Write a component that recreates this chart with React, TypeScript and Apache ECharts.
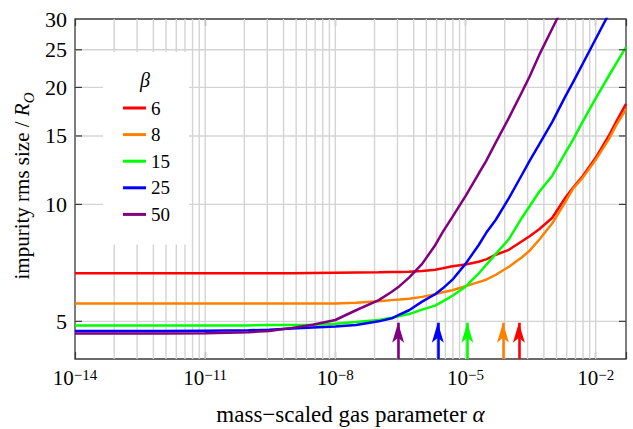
import React, { useEffect, useRef } from 'react';
import * as echarts from 'echarts';

const FONT = "'Liberation Serif', 'Times New Roman', serif";

// mass-scaled gas parameter alpha (x samples)
const alphas = [1e-14, 1e-13, 1e-12, 1e-11, 1e-10, 3e-10, 1e-9, 3e-9, 1e-8, 3e-8, 1e-7, 2e-7, 3e-7, 5e-7, 1e-6, 2e-6, 3e-6, 5e-6, 1e-5, 2e-5, 3e-5, 5e-5, 1e-4, 2e-4, 3e-4, 5e-4, 1e-3, 2e-3, 3e-3, 5e-3, 1e-2, 2e-2, 3e-2, 5e-2];

// impurity rms size / R_O for each beta
const size6 = [6.65, 6.65, 6.65, 6.65, 6.65, 6.65, 6.65, 6.66, 6.67, 6.68, 6.69, 6.70, 6.70, 6.71, 6.74, 6.79, 6.85, 6.93, 7.00, 7.12, 7.22, 7.42, 7.64, 8.04, 8.28, 8.63, 9.24, 10.4, 11.03, 11.81, 13.18, 15.0, 16.35, 18.14];
const size8 = [5.56, 5.56, 5.56, 5.56, 5.56, 5.56, 5.56, 5.56, 5.56, 5.58, 5.63, 5.67, 5.69, 5.72, 5.78, 5.87, 5.94, 6.01, 6.16, 6.31, 6.40, 6.59, 6.91, 7.31, 7.60, 8.11, 8.94, 10.15, 10.97, 11.70, 13.02, 14.70, 16.02, 17.56];
const size15 = [4.88, 4.88, 4.88, 4.88, 4.88, 4.89, 4.89, 4.90, 4.93, 4.98, 5.04, 5.11, 5.16, 5.22, 5.36, 5.49, 5.63, 5.82, 6.14, 6.63, 6.99, 7.46, 8.14, 9.24, 9.89, 10.78, 11.85, 13.58, 14.66, 16.31, 18.74, 21.4, 23.1, 25.4];
const size25 = [4.72, 4.72, 4.72, 4.73, 4.74, 4.76, 4.79, 4.82, 4.85, 4.89, 5.00, 5.09, 5.20, 5.34, 5.62, 5.87, 6.08, 6.40, 7.03, 7.85, 8.45, 9.13, 10.38, 11.92, 12.94, 14.27, 16.31, 18.97, 20.6, 22.98, 26.65, 30.9, null, null];
const size50 = [4.65, 4.65, 4.65, 4.66, 4.69, 4.72, 4.81, 4.90, 5.04, 5.34, 5.67, 5.96, 6.16, 6.48, 7.03, 7.85, 8.50, 9.29, 10.50, 11.99, 12.94, 14.44, 16.70, 19.47, 21.34, 24.25, 28.36, 33.2, null, null, null, null, null, null];

const betas = ['6', '8', '15', '25', '50'];
const seriesValues = [size6, size8, size15, size25, size50];
const colors = ['#ff0000', '#ff8000', '#00ff00', '#0000ff', '#800080'];

// arrows marking the crossover alpha for each beta
const arrowAlphas = [1.7e-4, 7.3e-5, 1.1e-5, 2.3e-6, 2.8e-7];
const arrowBase = 4;
const arrowEnd = 4.96;

// axes
const xMin = 1e-14;
const xMax = 5e-2;
const yMin = 4;
const yMax = 30;
const yTickValues = [5, 10, 15, 20, 25, 30];
const gridDecades = [-11, -8, -5, -2];
const gridMantissas = [0.008, 0.027, 0.064, 0.125, 0.216, 0.343, 0.512, 0.729, 1];

const xLabel = (v: number) => {
  const e = Math.log10(v);
  const r = Math.round(e);
  if (Math.abs(e - r) > 1e-6) return '';
  return `{b|10}{s|${r < 0 ? '\u2212' : ''}${Math.abs(r)}}`;
};

export default function App() {
  const ref = useRef<HTMLDivElement>(null);
  useEffect(() => {
    const chart = echarts.init(ref.current!, null, { renderer: 'svg' });

    const gridX: number[] = [];
    gridDecades.forEach((d) => gridMantissas.forEach((m) => gridX.push(m * Math.pow(10, d))));

    const axisCommon = {
      type: 'log' as const,
      logBase: 10,
      min: xMin,
      max: xMax,
      interval: 3,
      axisLine: { show: false },
      splitLine: { show: false },
      minorTick: { show: false },
      axisTick: { show: true, inside: true, length: 7, lineStyle: { color: '#3a3a3a', width: 1.2 } },
    };

    const series: any[] = betas.map((b, i) => ({
      name: b,
      type: 'line',
      symbol: 'none',
      showSymbol: false,
      z: 2,
      clip: true,
      lineStyle: { color: colors[i], width: 2.5 },
      itemStyle: { color: colors[i] },
      data: alphas.map((a, j) => [a, seriesValues[i][j]]).filter((p) => p[1] !== null),
      markLine: {
        silent: true,
        z: 3,
        symbol: ['none', 'arrow'],
        symbolSize: [9, 20],
        animation: false,
        label: { show: false },
        lineStyle: { color: colors[i], width: 2.6, type: 'solid' },
        data: [[{ coord: [arrowAlphas[i], arrowBase] }, { coord: [arrowAlphas[i], arrowEnd] }]],
      },
    }));

    chart.setOption({
      animation: false,
      grid: {
        left: 75,
        right: 7,
        top: 19,
        bottom: 70,
        show: true,
        borderColor: '#3a3a3a',
        borderWidth: 1.3,
        backgroundColor: 'transparent',
      },
      xAxis: [
        {
          ...axisCommon,
          position: 'bottom',
          axisLabel: {
            formatter: xLabel,
            margin: 8,
            color: '#000',
            rich: {
              b: { fontSize: 21, lineHeight: 21, fontFamily: FONT, color: '#000', verticalAlign: 'bottom' },
              s: { fontSize: 15, lineHeight: 15, fontFamily: FONT, color: '#000', verticalAlign: 'top', padding: [0, 0, 11, 0] },
            },
          },
        },
        { ...axisCommon, position: 'top', axisLabel: { show: false } },
      ],
      yAxis: {
        type: 'log',
        logBase: 10,
        min: yMin,
        max: yMax,
        axisLine: { show: false },
        axisTick: { show: false },
        axisLabel: { show: false },
        splitLine: { show: false },
        minorTick: { show: false },
      },
      legend: {
        orient: 'vertical',
        left: 103,
        top: 52,
        padding: [46, 19, 20, 20],
        itemGap: 6.6,
        itemWidth: 23,
        itemHeight: 3,
        icon: 'rect',
        backgroundColor: '#ffffff',
        textStyle: { fontSize: 19, lineHeight: 20, fontFamily: FONT, color: '#000' },
        data: betas,
      },
      series,
    });

    const left = chart.convertToPixel({ xAxisIndex: 0 }, xMin) as number;
    const right = chart.convertToPixel({ xAxisIndex: 0 }, xMax) as number;
    const top = chart.convertToPixel({ yAxisIndex: 0 }, yMax) as number;
    const bottom = chart.convertToPixel({ yAxisIndex: 0 }, yMin) as number;
    const graphic: any[] = [];
    const gridStyle = { stroke: '#d4d4d4', lineWidth: 1.4 };
    gridX.forEach((v) => {
      const px = chart.convertToPixel({ xAxisIndex: 0 }, v) as number;
      graphic.push({ type: 'line', z: 1, silent: true, shape: { x1: px, y1: top, x2: px, y2: bottom }, style: gridStyle });
    });
    yTickValues.forEach((v) => {
      const py = chart.convertToPixel({ yAxisIndex: 0 }, v) as number;
      if (v < yMax) {
        graphic.push({ type: 'line', z: 1, silent: true, shape: { x1: left, y1: py, x2: right, y2: py }, style: gridStyle });
        graphic.push({ type: 'line', z: 10, shape: { x1: left, y1: py, x2: left + 7, y2: py }, style: { stroke: '#3a3a3a', lineWidth: 1.2 } });
        graphic.push({ type: 'line', z: 10, shape: { x1: right, y1: py, x2: right - 7, y2: py }, style: { stroke: '#3a3a3a', lineWidth: 1.2 } });
      }
      graphic.push({
        type: 'text',
        z: 10,
        x: left - 8,
        y: py,
        style: { text: String(v), font: `22px ${FONT}`, fill: '#000', align: 'right', verticalAlign: 'middle' },
      });
    });
    graphic.push({
      type: 'text',
      z: 10,
      x: 145,
      y: 80,
      style: { text: '\u03b2', font: `italic 20px ${FONT}`, fill: '#000', align: 'center', verticalAlign: 'middle' },
    });
    graphic.push({
      type: 'text',
      z: 10,
      x: (left + right) / 2,
      y: 414,
      style: {
        text: 'mass\u2212scaled gas parameter {i|\u03b1}',
        font: `23px ${FONT}`,
        fill: '#000',
        align: 'center',
        verticalAlign: 'middle',
        rich: { i: { fontStyle: 'italic', fontSize: 23, fontFamily: FONT } },
      },
    });
    graphic.push({
      type: 'text',
      z: 10,
      x: 24,
      y: 186,
      rotation: Math.PI / 2,
      style: {
        text: '{n|impurity rms size / }{i|R}{sub|O}',
        fill: '#000',
        align: 'center',
        verticalAlign: 'middle',
        rich: {
          n: { fontSize: 21, lineHeight: 25, fontFamily: FONT, verticalAlign: 'top' },
          i: { fontSize: 21, lineHeight: 25, fontFamily: FONT, fontStyle: 'italic', verticalAlign: 'top' },
          sub: { fontSize: 15, lineHeight: 15, fontFamily: FONT, fontStyle: 'italic', verticalAlign: 'bottom' },
        },
      },
    });
    chart.setOption({ graphic });

    return () => chart.dispose();
  }, []);
  return <div ref={ref} style={{ position: 'absolute', left: 0, top: 0, width: 633, height: 429 }} />;
}
